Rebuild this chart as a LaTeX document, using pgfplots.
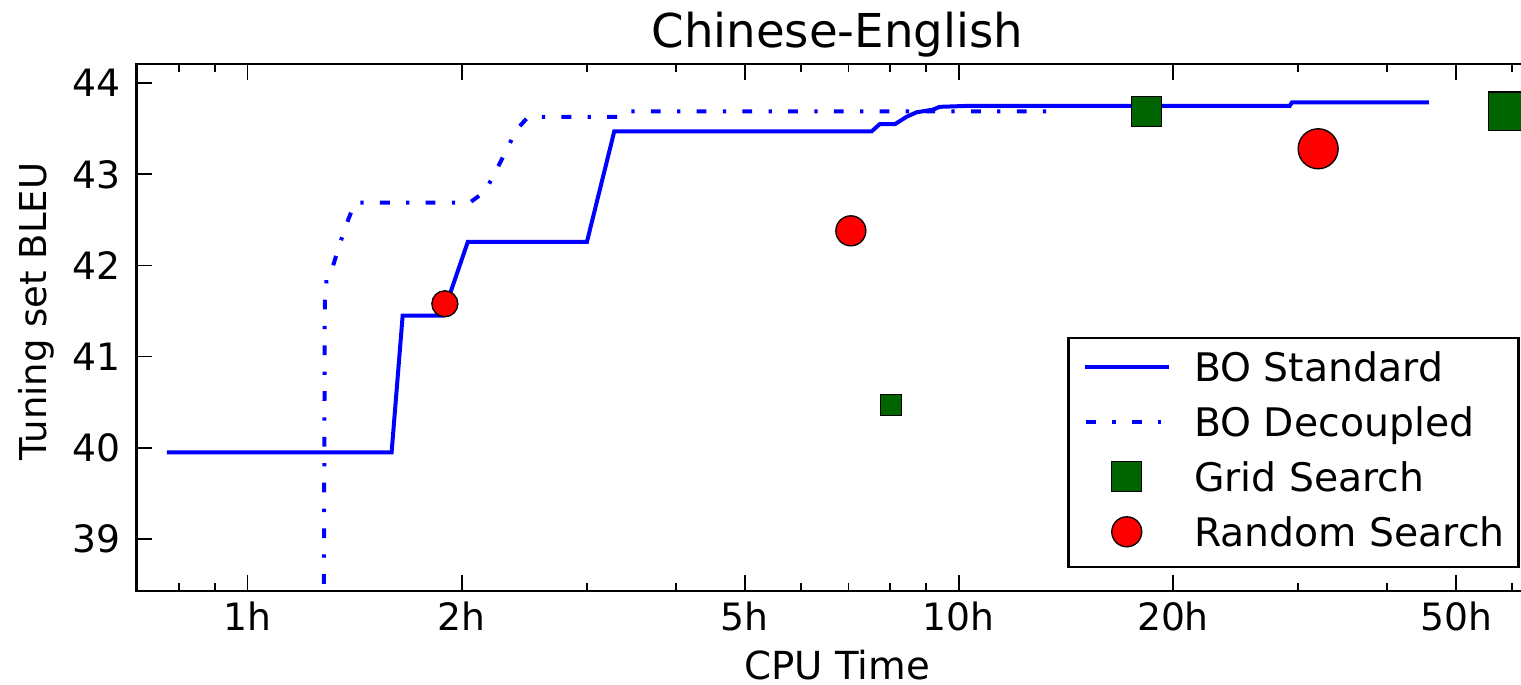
\documentclass[border=0pt]{standalone}
\usepackage{fontspec}
\setmainfont{DejaVu Sans}
\usepackage{pgfplots}
\pgfplotsset{compat=1.18}
\definecolor{gridgreen}{RGB}{0,100,0}
\pgfplotsset{
  lineleg/.style={legend image code/.code={\draw[##1] (0pt,0.99pt) -- (25.3pt,0.99pt);}},
  markleg/.style={legend image code/.code={\draw[##1] plot coordinates {(12.65pt,0.99pt)};}},
}
\begin{document}
\begin{tikzpicture}
\begin{axis}[
  at={(0pt,0pt)}, anchor=south west,
  scale only axis, width=420.4pt, height=158.1pt,
  xmode=log, xmin=0.6983, xmax=65.2, ymin=38.43, ymax=44.21,
  xtick={1,2,5,10,20,50}, xticklabels={1h,2h,5h,10h,20h,50h},
  minor xtick={0.8,0.9,3,4,6,7,8,9,30,40,60},
  ytick={39,40,41,42,43,44},
  /pgf/number format/assume math mode=true,
  tick align=inside, major tick length=4.7pt, minor tick length=2.5pt,
  every tick/.append style={black, line width=0.5pt},
  every minor tick/.append style={black, line width=0.5pt},
  axis line style={line width=0.75pt},
  tick label style={font=\fontsize{11.3}{13}\selectfont},
  xticklabel style={inner sep=0pt, anchor=north, yshift=-3.2pt},
  yticklabel style={inner sep=0pt, anchor=east, xshift=-4.6pt},
  xlabel={CPU Time},
  ylabel={Tuning set BLEU},
  xlabel style={at={([yshift=-17.5pt]axis description cs:0.5,0)}, anchor=north, inner sep=0pt, font=\fontsize{11.6}{13}\selectfont},
  ylabel style={at={([xshift=-27pt]axis description cs:0,0.5304)}, anchor=base, inner sep=0pt, font=\fontsize{11.1}{13}\selectfont},
  title={Chinese-English},
  title style={at={([yshift=4.8pt]axis description cs:0.5,1)}, anchor=base, yshift=-6pt, inner sep=0pt, font=\fontsize{14}{16}\selectfont},
  legend cell align=left,
  legend style={at={(axis description cs:1,0)}, anchor=south east, xshift=-5.4pt, yshift=6.8pt,
    draw=black, line width=0.75pt, inner xsep=4.2pt, inner ysep=3.9pt,
    row sep=5.12pt, column sep=7.0pt,
    font=\fontsize{11.8}{13}\selectfont,
    nodes={inner sep=0pt, text height=9pt, text depth=2.38pt}},
]
% BO Standard
\addplot[blue, line width=1.2pt, forget plot] coordinates {
(0.770,39.95) (1.594,39.95) (1.652,41.45) (1.88,41.45) (2.04,42.26) (3.00,42.26)
(3.277,43.47) (7.54,43.47) (7.74,43.55) (8.13,43.55) (8.44,43.63) (8.72,43.68)
(9.20,43.71) (9.40,43.74) (10.25,43.75) (29.19,43.75) (29.4,43.79) (45.8,43.79)
};
% BO Decoupled
\addplot[blue, line width=1.2pt, line cap=butt, dash pattern=on 2.94pt off 4.9pt on 0.98pt off 4.9pt, forget plot] coordinates {
(1.277,36.0) (1.284,41.6) (1.291,41.84) (1.319,42.0) (1.351,42.26) (1.38,42.47)
(1.415,42.69) (2.053,42.69) (2.156,42.81) (2.239,43.05) (2.313,43.27) (2.389,43.49)
(2.48,43.63) (3.33,43.63) (3.40,43.69) (13.6,43.69)
};
% Grid Search
\addplot[only marks, mark=square*, mark size=3.15pt, mark options={fill=gridgreen, draw=black, line width=0.4pt}, forget plot] coordinates {(8.03,40.47)};
\addplot[only marks, mark=square*, mark size=4.45pt, mark options={fill=gridgreen, draw=black, line width=0.4pt}, forget plot] coordinates {(18.36,43.69)};
\addplot[only marks, mark=square*, mark size=5.8pt, mark options={fill=gridgreen, draw=black, line width=0.4pt}, forget plot] coordinates {(59.2,43.69)};
% Random Search
\addplot[only marks, mark=*, mark size=3.9pt, mark options={fill=red, draw=black, line width=0.4pt}, forget plot] coordinates {(1.894,41.58)};
\addplot[only marks, mark=*, mark size=4.5pt, mark options={fill=red, draw=black, line width=0.4pt}, forget plot] coordinates {(7.05,42.38)};
\addplot[only marks, mark=*, mark size=6.0pt, mark options={fill=red, draw=black, line width=0.4pt}, forget plot] coordinates {(32.0,43.28)};
% legend
\addlegendimage{lineleg, blue, line width=1.2pt}
\addlegendentry{BO Standard}
\addlegendimage{lineleg, blue, line width=1.2pt, line cap=butt, dash pattern=on 2.94pt off 4.9pt on 0.98pt off 4.9pt, dash phase=-0.5pt}
\addlegendentry{BO Decoupled}
\addlegendimage{markleg, only marks, mark=square*, mark size=4.5pt, mark options={fill=gridgreen, draw=black, line width=0.4pt}}
\addlegendentry{Grid Search}
\addlegendimage{markleg, only marks, mark=*, mark size=4.5pt, mark options={fill=red, draw=black, line width=0.4pt}}
\addlegendentry{Random Search}
\end{axis}
\pgfresetboundingbox
\useasboundingbox (-41.0pt,-28.2pt) rectangle (415.3pt,177.3pt);
\end{tikzpicture}
\end{document}
